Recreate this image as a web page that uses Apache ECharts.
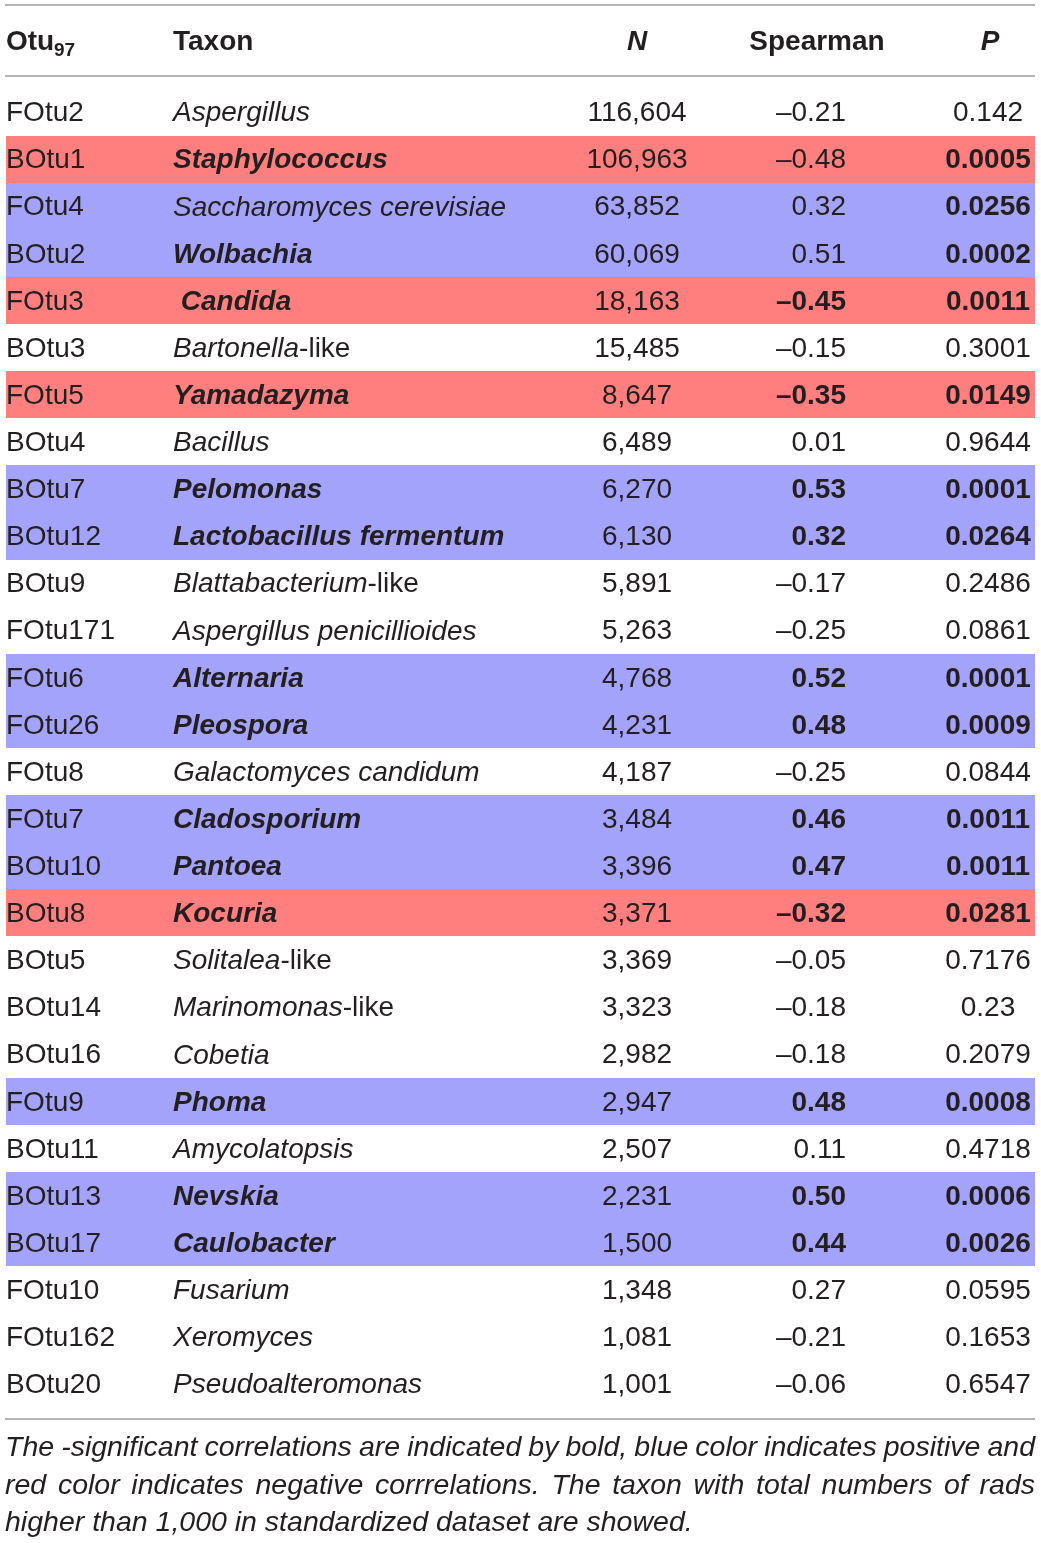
<!DOCTYPE html>
<html>
<head>
<meta charset="utf-8">
<title>Otu97 Spearman</title>
<script src="https://cdn.jsdelivr.net/npm/echarts@6/dist/echarts.min.js"></script>
<style>
html, body { margin: 0; background: #fff; }
#main { width: 1041px; height: 1543px; }
</style>
</head>
<body>
<div id="main"></div>
<script>
// table data, one entry per row (top to bottom)
var otus = ['FOtu2', 'BOtu1', 'FOtu4', 'BOtu2', 'FOtu3', 'BOtu3', 'FOtu5', 'BOtu4', 'BOtu7', 'BOtu12',
  'BOtu9', 'FOtu171', 'FOtu6', 'FOtu26', 'FOtu8', 'FOtu7', 'BOtu10', 'BOtu8', 'BOtu5', 'BOtu14',
  'BOtu16', 'FOtu9', 'BOtu11', 'BOtu13', 'BOtu17', 'FOtu10', 'FOtu162', 'BOtu20'];
// "name|suffix": name is italic, suffix is upright
var taxa = ['Aspergillus', 'Staphylococcus', 'Saccharomyces cerevisiae', 'Wolbachia', ' Candida',
  'Bartonella|-like', 'Yamadazyma', 'Bacillus', 'Pelomonas', 'Lactobacillus fermentum',
  'Blattabacterium|-like', 'Aspergillus penicillioides', 'Alternaria', 'Pleospora', 'Galactomyces candidum',
  'Cladosporium', 'Pantoea', 'Kocuria', 'Solitalea|-like', 'Marinomonas|-like',
  'Cobetia', 'Phoma', 'Amycolatopsis', 'Nevskia', 'Caulobacter',
  'Fusarium', 'Xeromyces', 'Pseudoalteromonas'];
var counts = [116604, 106963, 63852, 60069, 18163, 15485, 8647, 6489, 6270, 6130,
  5891, 5263, 4768, 4231, 4187, 3484, 3396, 3371, 3369, 3323,
  2982, 2947, 2507, 2231, 1500, 1348, 1081, 1001];
var rho = [-0.21, -0.48, 0.32, 0.51, -0.45, -0.15, -0.35, 0.01, 0.53, 0.32,
  -0.17, -0.25, 0.52, 0.48, -0.25, 0.46, 0.47, -0.32, -0.05, -0.18,
  -0.18, 0.48, 0.11, 0.50, 0.44, 0.27, -0.21, -0.06];
var pVals = [0.142, 0.0005, 0.0256, 0.0002, 0.0011, 0.3001, 0.0149, 0.9644, 0.0001, 0.0264,
  0.2486, 0.0861, 0.0001, 0.0009, 0.0844, 0.0011, 0.0011, 0.0281, 0.7176, 0.23,
  0.2079, 0.0008, 0.4718, 0.0006, 0.0026, 0.0595, 0.1653, 0.6547];
// 1 = positive (blue), -1 = negative (red), 0 = not significant
var sign = [0, -1, 1, 1, -1, 0, -1, 0, 1, 1,
  0, 0, 1, 1, 0, 1, 1, -1, 0, 0,
  0, 1, 0, 1, 1, 0, 0, 0];
var taxBold = [0, 1, 0, 1, 1, 0, 1, 0, 1, 1,
  0, 0, 1, 1, 0, 1, 1, 1, 0, 0,
  0, 1, 0, 1, 1, 0, 0, 0];
var rhoBold = [0, 0, 0, 0, 1, 0, 1, 0, 1, 1,
  0, 0, 1, 1, 0, 1, 1, 1, 0, 0,
  0, 1, 0, 1, 1, 0, 0, 0];
var headers = ['Otu', 'Taxon', 'N', 'Spearman', 'P'];
var footLines = [
  'The -significant correlations are indicated by bold, blue color indicates positive and',
  'red color indicates negative corrrelations. The taxon with total numbers of rads',
  'higher than 1,000 in standardized dataset are showed.'
];

var FONT = '"Liberation Sans", Arial, Helvetica, sans-serif';
var INK = '#231f20';
var RULE = '#9b9b9b';
var RED = '#ff7f7f';
var BLUE = '#a3a3fb';
var DY = 1.5; // nudge text down to sit like the original

function fmtCount(n) { return String(n).replace(/\B(?=(\d{3})+(?!\d))/g, ','); }
function fmtRho(v) { return (v < 0 ? '\u2013' : '') + Math.abs(v).toFixed(2); }

var myChart = echarts.init(document.getElementById('main'));

function bandItem(params, api) {
  var idx = api.value(0);
  var s = api.value(1);
  if (!s) return null;
  var a = api.coord([6, idx]);
  var b = api.coord([1035, idx]);
  var h = api.size([0, 1])[1];
  var y0 = Math.round(a[1] - h / 2), y1 = Math.round(a[1] + h / 2);
  return {
    type: 'rect',
    shape: { x: a[0], y: y0, width: b[0] - a[0], height: y1 - y0 },
    style: { fill: s > 0 ? BLUE : RED }
  };
}

function cell(x, y, text, align, weight, italic) {
  return {
    type: 'text', x: x, y: y,
    style: {
      text: text, fill: INK, align: align, verticalAlign: 'middle',
      fontFamily: FONT, fontSize: 28, fontWeight: weight ? 'bold' : 'normal',
      fontStyle: italic ? 'italic' : 'normal'
    }
  };
}

function textItem(params, api) {
  var i = api.value(0);
  var y = api.coord([0, i])[1] + DY;
  var px = function (v) { return api.coord([v, i])[0]; };
  var parts = taxa[i].split('|');
  var tw = taxBold[i] ? 'bold' : 'normal';
  var taxon = {
    type: 'text', x: px(173), y: y,
    style: {
      text: '{it|' + parts[0] + '}' + (parts[1] ? '{up|' + parts[1] + '}' : ''),
      fill: INK, align: 'left', verticalAlign: 'middle',
      fontFamily: FONT, fontSize: 28,
      rich: {
        it: { fill: INK, fontFamily: FONT, fontSize: 28, fontStyle: 'italic', fontWeight: tw },
        up: { fill: INK, fontFamily: FONT, fontSize: 28, fontStyle: 'normal', fontWeight: tw }
      }
    }
  };
  return {
    type: 'group',
    children: [
      cell(px(6), y, otus[i], 'left', false, false),
      taxon,
      cell(px(637), y, fmtCount(counts[i]), 'center', false, false),
      cell(px(846), y, fmtRho(rho[i]), 'right', rhoBold[i], false),
      cell(px(988), y, String(pVals[i]), 'center', sign[i] !== 0, false)
    ]
  };
}

// graphic: rules, header, footnote
var graphics = [];
[5, 76, 1419].forEach(function (y) {
  graphics.push({ type: 'line', shape: { x1: 5, y1: y, x2: 1035, y2: y }, style: { stroke: RULE, lineWidth: 1.5 } });
});
function headText(x, text, align, italic) {
  graphics.push({
    type: 'text', x: x, y: 41 + DY,
    style: {
      text: text, fill: INK, align: align, verticalAlign: 'middle',
      font: (italic ? 'italic ' : '') + 'bold 28px ' + FONT
    }
  });
}
headText(6, headers[0], 'left', false);
graphics.push({
  type: 'text', x: 54, y: 49 + DY,
  style: { text: '97', fill: INK, align: 'left', verticalAlign: 'middle', font: 'bold 19px ' + FONT }
});
headText(173, headers[1], 'left', false);
headText(637, headers[2], 'center', true);
headText(817, headers[3], 'center', false);
headText(990, headers[4], 'center', true);

// footnote, first two lines justified to the table width
var footFont = 'italic 28.5px ' + FONT;
var ctx = document.createElement('canvas').getContext('2d');
ctx.font = footFont;
var footY = [1447, 1485, 1522];
footLines.forEach(function (line, li) {
  var words = line.split(' ');
  var widths = words.map(function (w) { return ctx.measureText(w).width; });
  var sum = widths.reduce(function (a, b) { return a + b; }, 0);
  var space = ctx.measureText(' ').width;
  var justify = li < footLines.length - 1;
  var gap = justify ? (1030 - sum) / (words.length - 1) : space;
  var sx = 1;
  if (gap < space * 0.6) {
    gap = space * 0.6;
    sx = 1030 / (sum + gap * (words.length - 1));
  }
  var x = 5;
  words.forEach(function (w, wi) {
    graphics.push({
      type: 'text', x: x, y: footY[li] + DY, scaleX: sx,
      style: { text: w, fill: INK, align: 'left', verticalAlign: 'middle', font: footFont }
    });
    x += (widths[wi] + gap) * sx;
  });
});

var rowIdx = otus.map(function (o, i) { return [i, sign[i]]; });
var option = {
  animation: false,
  backgroundColor: '#ffffff',
  grid: { left: 0, right: 0, top: 88.44, height: 1319.1 },
  xAxis: { type: 'value', min: 0, max: 1041, show: false },
  yAxis: { type: 'category', data: otus, inverse: true, show: false },
  graphic: graphics,
  series: [
    { type: 'custom', name: 'bands', renderItem: bandItem, encode: { y: 0 }, data: rowIdx, silent: true },
    { type: 'custom', name: 'cells', renderItem: textItem, encode: { y: 0 }, data: rowIdx, silent: true, z: 3 }
  ]
};
myChart.setOption(option);
</script>
</body>
</html>
